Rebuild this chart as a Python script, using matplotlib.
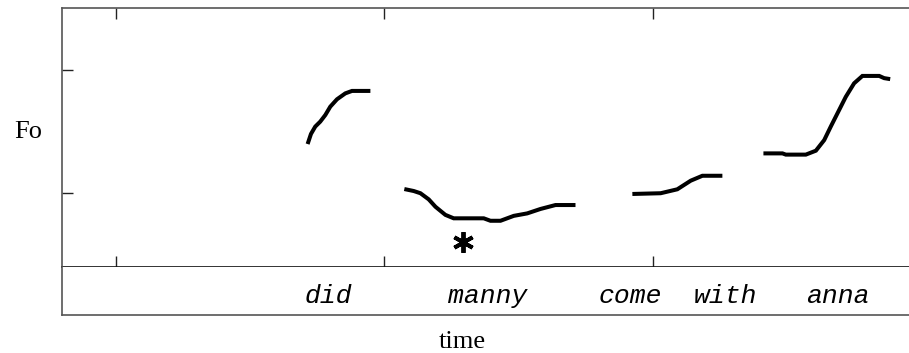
import matplotlib
matplotlib.use('Agg')
import matplotlib.pyplot as plt

# Fo contours (time in ms, Fo in Hz), one per stretch of speech
did_t = [342.8, 345.3, 348.5, 352.2, 356.0, 359.7, 364.7, 370.9, 375.9, 389.6]
did_f = [119.9, 124.0, 127.0, 129.0, 131.7, 135.1, 138.1, 140.5, 141.5, 141.5]

manny_t = [414.9, 421.9, 426.9, 433.1, 438.1, 445.5, 451.7, 474.1, 479.1,
           486.6, 496.5, 506.5, 516.4, 527.6, 542.5]
manny_f = [101.6, 100.8, 99.9, 97.4, 94.4, 91.1, 89.7, 89.7, 88.7,
           88.7, 90.7, 91.7, 93.5, 95.1, 95.1]

come_t = [584.9, 606.0, 618.4, 628.4, 637.1, 652.0]
come_f = [99.6, 99.9, 101.5, 105.0, 107.0, 107.0]

anna_t = [682.6, 696.8, 699.3, 714.2, 721.7, 727.9, 732.8, 737.8, 744.0,
          750.2, 756.4, 768.9, 772.6, 777.1]
anna_f = [116.1, 116.1, 115.6, 115.6, 117.2, 121.5, 127.0, 132.4, 139.1,
          144.6, 147.6, 147.6, 146.7, 146.3]

words = ['did', 'manny', 'come', 'with', 'anna']
word_t = [358.2, 476.9, 583.6, 654.5, 738.1]

accent_t, accent_f = 458.7, 80.2

xticks = [200, 400, 600]
yticks = [100, 150]

fig = plt.figure(figsize=(9.09, 3.53), dpi=100)
ax = fig.add_axes([0.0682, 0.245, 0.9328, 0.7322])
ax2 = fig.add_axes([0.0682, 0.1076, 0.9328, 0.1374])

frame = '#555555'
for t, f in [(did_t, did_f), (manny_t, manny_f), (come_t, come_f), (anna_t, anna_f)]:
    ax.plot(t, f, color='black', lw=2.9, solid_capstyle='butt', solid_joinstyle='miter')

# accent mark under "manny"
ax.plot([accent_t], [accent_f], marker=(6, 2, 0), ms=15, mew=2.8,
        color='black', linestyle='none')

ax.set_xlim(159.7, 791.8)
ax.set_ylim(70.1, 175.2)
ax.set_xticks(xticks)
ax.set_yticks(yticks)
ax.tick_params(axis='x', direction='in', top=True, bottom=True, length=8,
               width=1, color='#222222', labelbottom=False)
ax.tick_params(axis='y', direction='in', left=True, length=8,
               width=1, color='#222222', labelleft=False)
ax.spines['right'].set_visible(False)
ax.spines['top'].set_color(frame)
ax.spines['left'].set_color(frame)
ax.spines['bottom'].set_color('#111111')
for s in ['top', 'left', 'bottom']:
    ax.spines[s].set_linewidth(1.2)

ax2.set_xlim(159.7, 791.8)
ax2.set_ylim(0, 1)
ax2.set_xticks([])
ax2.set_yticks([])
ax2.spines['right'].set_visible(False)
ax2.spines['top'].set_visible(False)
ax2.spines['left'].set_color(frame)
ax2.spines['bottom'].set_color(frame)
ax2.spines['left'].set_linewidth(1.2)
ax2.spines['bottom'].set_linewidth(1.2)
for w, t in zip(words, word_t):
    ax2.text(t, 0.24, w, ha='center', va='baseline', fontsize=19,
             family='Liberation Mono', style='italic')

fig.text(0.0308, 0.627, 'Fo', ha='center', va='center',
         family='Liberation Serif', fontsize=19)
fig.text(0.508, 0.032, 'time', ha='center', va='center',
         family='Liberation Serif', fontsize=19)

fig.savefig('out.png', dpi=100)
